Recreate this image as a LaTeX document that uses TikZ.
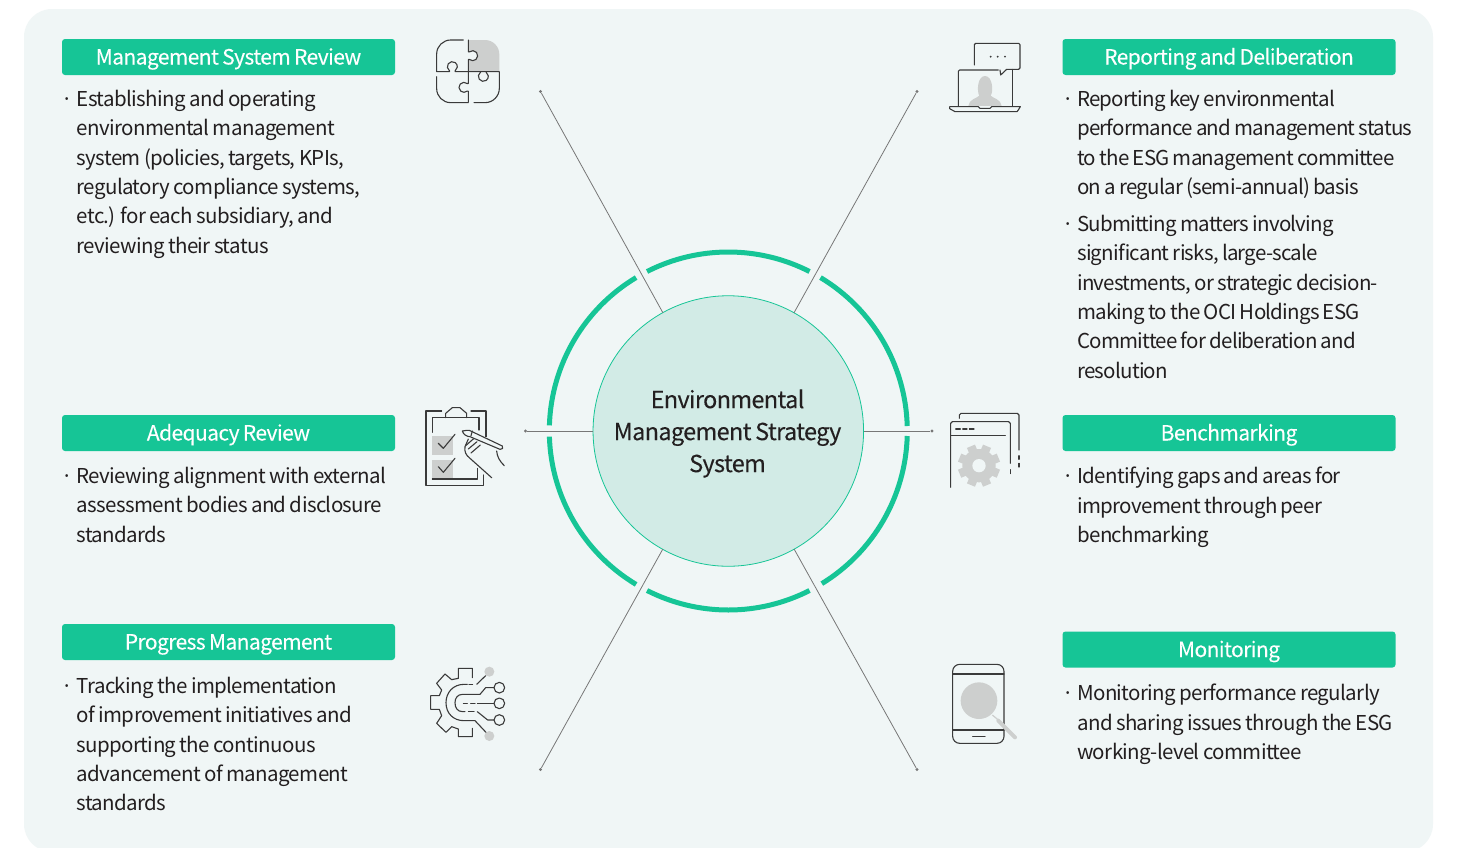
\documentclass[tikz,border=0pt]{standalone}
\usepackage{fontspec}
\setmainfont{Noto Sans CJK KR}[LetterSpace=-3.0,WordSpace=0.85]
\newfontfamily\headfont{Noto Sans CJK KR}[LetterSpace=-2.8,WordSpace=0.8,FakeBold=0.12]
\newfontfamily\tightfont{Noto Sans CJK KR}[LetterSpace=-3.7,WordSpace=0.85]
\usetikzlibrary{calc}
\definecolor{panel}{HTML}{F0F6F6}
\definecolor{teal}{HTML}{16C596}
\definecolor{core}{HTML}{D2EBE6}
\definecolor{ink}{HTML}{231F20}
\definecolor{ico}{HTML}{3A3A3A}
\definecolor{icg}{HTML}{CDCFCE}
\definecolor{lin}{HTML}{777777}
\tikzset{
 head/.style={fill=teal,rounded corners=3pt,minimum width=333pt,minimum height=36pt,inner sep=0pt,text=white,font=\headfont\fontsize{21}{26}\selectfont},
 body/.style={anchor=north west,inner sep=0pt,align=left,text=ink,font=\fontsize{20.5}{29.3}\selectfont},
 tbody/.style={anchor=north west,inner sep=0pt,align=left,text=ink,font=\tightfont\fontsize{20.5}{29.3}\selectfont},
 ring/.style={teal,line width=5pt},
 spoke/.style={lin,line width=.8pt},
 tip/.style={circle,fill=lin,inner sep=0pt,minimum size=3.4pt},
 ic/.style={ico,line width=1.1pt,line cap=round,line join=round},
}
\newcommand{\bul}{\llap{·\hspace{3.5pt}}}
\newcommand{\hd}[1]{\raisebox{-7.5pt}[0pt][0pt]{#1}}
\begin{document}
\begin{tikzpicture}[x=1pt,y=-1pt]
\useasboundingbox (0,0) rectangle (1475,847);
\fill[white] (0,0) rectangle (1475,847);
\begin{scope}
\clip (0,0) rectangle (1475,847);
\fill[panel,rounded corners=28pt] (24,9) rectangle (1433,852);
\end{scope}

% centre
\node[circle,fill=core,draw=teal,line width=.8pt,minimum size=270.5pt,inner sep=0pt,outer sep=0pt] (c) at (728.3,431) {};
\node[align=center,text=ink,inner sep=0pt,font=\headfont\fontsize{23.5}{32}\selectfont] (ct) at (727.5,433.5) {Environmental\\Management Strategy\\System};
\foreach \a/\b in {63/117,59/1.6,-1.6/-58.5,-63/-117,-121/-178.2,178.2/121}{
 \draw[ring] ($(728.3,431)+({179*cos(\a)},{-179*sin(\a)})$) arc[start angle=-\a,end angle=-\b,radius=179];
}
% spokes
\node[tip] (t1) at (540.5,91.5) {};
\node[tip] (t2) at (917,91.5) {};
\node[tip] (t3) at (525.5,431) {};
\node[tip] (t4) at (932,431) {};
\node[tip] (t5) at (540.5,769.5) {};
\node[tip] (t6) at (917,769.5) {};
\foreach \t in {t1,t2,t3,t4,t5,t6}{\draw[spoke] (c) -- (\t);}

% headers
\node[head] (h1) at (228.5,57) {\hd{Management System Review}};
\node[head] (h2) at (228.5,433) {\hd{Adequacy Review}};
\node[head] (h3) at (228.5,642) {\hd{Progress Management}};
\node[head] (h4) at (1229,57) {\hd{Reporting and Deliberation}};
\node[head] (h5) at (1229,433) {\hd{Benchmarking}};
\node[head] (h6) at (1229,649.5) {\hd{Monitoring}};

% bodies
\node[body] (b1) at (76.5,90) {\bul Establishing and operating\\environmental management\\system (policies, targets, KPIs,\\regulatory compliance systems,\\etc.) for each subsidiary, and\\reviewing their status};
\node[body] (b2) at (76.5,467) {\bul Reviewing alignment with external\\assessment bodies and disclosure\\standards};
\node[body] (b3) at (76.5,677) {\bul Tracking the implementation\\of improvement initiatives and\\supporting the continuous\\advancement of management\\standards};
\node[tbody] (b4) at (1077,90) {\bul Reporting key environmental\\performance and management status\\to the ESG management committee\\on a regular (semi-annual) basis};
\node[tbody] (b5) at (1077,215) {\bul Submitting matters involving\\significant risks, large-scale\\investments, or strategic decision-\\making to the OCI Holdings ESG\\Committee for deliberation and\\resolution};
\node[body] (b6) at (1077,467) {\bul Identifying gaps and areas for\\improvement through peer\\benchmarking};
\node[body] (b7) at (1077,684) {\bul Monitoring performance regularly\\and sharing issues through the ESG\\working-level committee};

% icon 1 puzzle
\begin{scope}[xshift=420pt,yshift=-30pt,x=.3333pt,y=-.3333pt]
\fill[icg] (145,30) -- (195,30) arc[start angle=-90,end angle=0,radius=43] -- (238,125) -- (145,125) -- cycle;
\fill[panel] (158,77) circle[radius=15];
\fill[panel] (145,66) rectangle (150,88);
\draw[ic] (130,30) -- (92,30) arc[start angle=-90,end angle=-180,radius=42] -- (50,125) -- (88.4,125) -- (88.4,122.3) arc[start angle=125,end angle=415,radius=15] -- (105.6,125) -- (238,125) -- (238,175) arc[start angle=0,end angle=90,radius=43] -- (162,218);
\draw[ic] (145,30) -- (145,65.5) -- (148.4,65.5) arc[start angle=-130,end angle=130,radius=15] -- (145,88.5) -- (145,160.5) -- (141.6,160.5) arc[start angle=-50,end angle=-310,radius=15] -- (145,183.5) -- (145,216);
\draw[ic] (181.4,125) -- (181.4,126.7) arc[start angle=-125,end angle=-415,radius=15] -- (198.6,125);
\draw[ic] (50,140) -- (50,176) arc[start angle=180,end angle=90,radius=42] -- (145,218);
\end{scope}

% icon 2 laptop
\begin{scope}[xshift=935pt,yshift=-30pt,x=.3333pt,y=-.3333pt]
\draw[ic] (118,105) -- (118,44) -- (122,40) -- (251,40) -- (255,44) -- (255,114) -- (251,118) -- (215,118) -- (197,135) -- (195,120);
\fill[ico] (167,80) circle[radius=3.2] (188,80) circle[radius=3.2] (210,80) circle[radius=3.2];
\fill[icg] (100,228) .. controls (102,208) and (125,205) .. (133,197) .. controls (125,185) and (127,138) .. (150,138) .. controls (173,138) and (176,185) .. (167,197) .. controls (175,205) and (198,208) .. (200,228) -- cycle;
\draw[ic] (70,228) -- (70,124) -- (74,120) -- (190,120);
\draw[ic] (232,118) -- (232,228);
\draw[ic] (44,230) -- (130,230) -- (135,235) -- (165,235) -- (170,230) -- (256,230) -- (250,240) -- (246,245) -- (60,245) -- (44,236) -- cycle;
\end{scope}

% icon 3 clipboard
\begin{scope}[xshift=415pt,yshift=-395pt,x=.3333pt,y=-.3333pt]
\fill[icg] (52,123) rectangle (115,180);
\fill[icg] (52,195) rectangle (115,252);
\draw[ic] (80,48) -- (33,48) -- (33,272) -- (205,272) -- (205,240);
\draw[ic] (168,48) -- (213,48) -- (213,125);
\draw[ic] (52,112) -- (52,68) -- (192,68) -- (192,105);
\draw[ic] (92,68) -- (92,55) -- (112,38) -- (135,38) -- (155,55) -- (155,68);
\draw[ic] (70,145) -- (85,160) -- (120,118);
\draw[ic] (70,215) -- (85,232) -- (120,190);
\draw[ic] (52,252) -- (188,252) -- (188,220);
\draw[ic] (142,108) .. controls (150,104) and (158,108) .. (163,106) -- (262,153) .. controls (266,158) and (262,165) .. (255,163) -- (165,125) .. controls (155,125) and (145,118) .. cycle;
\draw[ic] (172,108) -- (168,122);
\draw[ic] (160,132) -- (150,155) .. controls (148,170) and (152,180) .. (165,190) -- (230,248);
\draw[ic] (152,152) -- (176,131);
\draw[ic] (160,162) -- (186,140);
\draw[ic] (168,174) -- (196,150);
\draw[ic] (245,168) .. controls (246,185) and (255,200) .. (268,212);
\end{scope}

% icon 4 windows
\begin{scope}[xshift=935pt,yshift=-400pt,x=.3333pt,y=-.3333pt]
\foreach \r in {0,45,...,315}{
 \begin{scope}[shift={(132,197)},rotate=\r+22.5]
 \fill[icg] (-13,-20) rectangle (13,-63);
 \end{scope}
}
\fill[icg] (132,197) circle[radius=50];
\fill[panel] (132,197) circle[radius=20];
\draw[ic] (73,55) -- (73,45) -- (78,40) -- (247,40) -- (252,45) -- (252,150);
\draw[ic] (252,167) -- (252,178) (252,190) -- (252,201);
\draw[ic] (47,262) -- (47,70) -- (52,65) -- (221,65) -- (226,70) -- (226,190);
\draw[ic] (226,209) -- (226,221);
\draw[ic] (47,107) -- (211,107);
\draw[ic] (62,87) -- (76,87) (83,87) -- (96,87) (103,87) -- (117,87);
\end{scope}

% icon 5 gear circuit
\begin{scope}[xshift=420pt,yshift=-655pt,x=.3333pt,y=-.3333pt]
\fill[icg] (208,50) circle[radius=15] (208,243) circle[radius=15];
\draw[ic] (157,68) -- (157,40) -- (115,40) -- (115,70) -- (95,74) -- (75,57) -- (50,85) -- (65,105) -- (58,122) -- (32,122) -- (32,163) -- (58,163) -- (65,182) -- (50,205) -- (78,232) -- (95,215) -- (115,222) -- (115,245) -- (157,245) -- (157,220);
\draw[ic] (142,88) -- (132,88) .. controls (100,88) and (78,112) .. (78,143) .. controls (78,175) and (100,197) .. (132,197) -- (165,197) -- (198,232);
\draw[ic] (147,88) -- (158,88);
\draw[ic] (170,88) -- (197,62);
\draw[ic] (180,118) -- (128,118) .. controls (112,118) and (105,130) .. (105,143) .. controls (105,158) and (112,170) .. (128,170) -- (135,170);
\draw[ic] (145,170) -- (162,170);
\draw[ic] (172,170) -- (203,195) -- (222,195);
\draw[ic] (180,118) -- (197,98) -- (222,98);
\draw[ic] (130,145) -- (142,145) (152,145) -- (165,145) (172,145) -- (222,145);
\draw[ic] (238,98) circle[radius=16] (238,145) circle[radius=16] (238,195) circle[radius=16];
\end{scope}

% icon 6 phone
\begin{scope}[xshift=935pt,yshift=-655pt,x=.3333pt,y=-.3333pt]
\draw[ic,rounded corners=7pt] (53,28) rectangle (207,265);
\draw[ic] (53,57) -- (207,57) (53,225) -- (207,225) (113,245) -- (150,245);
\fill[icg] (132,137) circle[radius=55];
\draw[icg,line width=1.2pt] (172,180) -- (190,195);
\draw[icg,line width=4pt,line cap=round] (190,197) -- (240,247);
\end{scope}
\end{tikzpicture}
\end{document}
